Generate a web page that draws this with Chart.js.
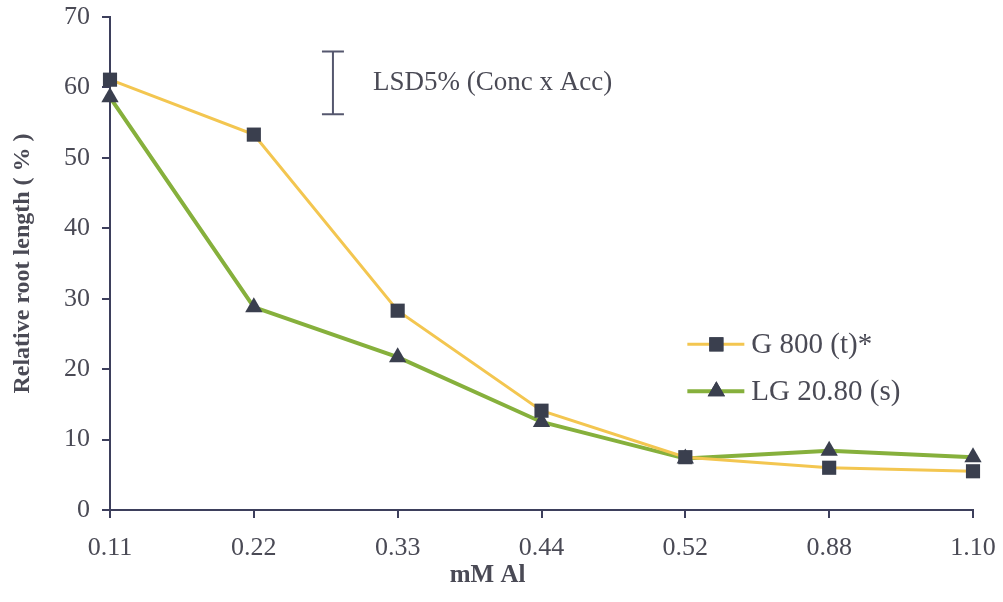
<!DOCTYPE html>
<html>
<head>
<meta charset="utf-8">
<script src="https://cdn.jsdelivr.net/npm/chart.js@4.4.1/dist/chart.umd.min.js"></script>
<style>
html,body{margin:0;padding:0;background:#fff;}
#wrap{width:1003px;height:602px;position:relative;}
</style>
</head>
<body>
<div id="wrap"><canvas id="c" width="1003" height="602"></canvas></div>
<script>
const categories = ['0.11','0.22','0.33','0.44','0.52','0.88','1.10'];
const g800 = [61.1, 53.3, 28.3, 14.1, 7.5, 6.0, 5.5];
const lg2080 = [58.6, 28.8, 21.7, 12.5, 7.3, 8.4, 7.5];
const seriesNames = ['G 800 (t)*', 'LG 20.80 (s)'];
const yTicks = [0, 10, 20, 30, 40, 50, 60, 70];
const lsdLabel = 'LSD5% (Conc x Acc)';
const lsdRange = [56.2, 65.1];
const lsdCategoryPos = [1.55];
const xTitle = 'mM Al';
const yTitle = 'Relative root length ( % )';

const FONT = "'Liberation Serif', 'DejaVu Serif', serif";
const AXIS = '#3d3f5c';
const TXT = '#4a4a55';
const YEL = '#f3c650';
const GRN = '#86b03c';
const MK = '#3a3f4e';

const overlay = {
  id: 'overlay',
  afterDatasetsDraw(chart) {
    const ctx = chart.ctx, x = chart.scales.x, y = chart.scales.y, ca = chart.chartArea;
    ctx.save();
    // x title
    ctx.fillStyle = TXT; ctx.font = "bold 25px " + FONT;
    ctx.textBaseline = 'middle'; ctx.textAlign = 'center';
    ctx.fillText(xTitle, (x.getPixelForValue(2) + x.getPixelForValue(3)) / 2 + 18, ca.bottom + 66);
    // LSD bar
    const bx = x.getPixelForValue(lsdCategoryPos[0]);
    const yt = y.getPixelForValue(lsdRange[1]), yb = y.getPixelForValue(lsdRange[0]);
    ctx.strokeStyle = '#55576e'; ctx.lineWidth = 2;
    ctx.beginPath();
    ctx.moveTo(bx, yt); ctx.lineTo(bx, yb);
    ctx.moveTo(bx - 11, yt); ctx.lineTo(bx + 11, yt);
    ctx.moveTo(bx - 11, yb); ctx.lineTo(bx + 11, yb);
    ctx.stroke();
    ctx.fillStyle = TXT; ctx.font = "27px " + FONT;
    ctx.textBaseline = 'middle'; ctx.textAlign = 'left';
    ctx.fillText(lsdLabel, bx + 40, (yt + yb) / 2);
    // legend
    const items = [
      {name: seriesNames[0], color: YEL, style: 'rect', lw: 3},
      {name: seriesNames[1], color: GRN, style: 'triangle', lw: 4}
    ];
    const lx0 = ca.left + (ca.right - ca.left) * 0.669;
    const ly0 = ca.top + (ca.bottom - ca.top) * 0.664;
    items.forEach((it, i) => {
      const ly = ly0 + i * 47;
      ctx.strokeStyle = it.color; ctx.lineWidth = it.lw;
      ctx.beginPath(); ctx.moveTo(lx0, ly); ctx.lineTo(lx0 + 57, ly); ctx.stroke();
      ctx.fillStyle = MK;
      Chart.helpers.drawPoint(ctx, {pointStyle: it.style, radius: 10, rotation: 0, borderWidth: 0}, lx0 + 29, ly);
      ctx.fill();
      ctx.fillStyle = TXT; ctx.font = "29px " + FONT;
      ctx.textBaseline = 'middle'; ctx.textAlign = 'left';
      ctx.fillText(it.name, lx0 + 64, ly + 1);
    });
    ctx.restore();
  }
};

new Chart(document.getElementById('c'), {
  type: 'line',
  data: {
    labels: categories,
    datasets: [
      {label: seriesNames[0], data: g800, borderColor: YEL, borderWidth: 3, tension: 0,
       pointStyle: 'rect', pointRadius: 10, pointHoverRadius: 10, pointBackgroundColor: MK, pointBorderColor: MK, pointBorderWidth: 0},
      {label: seriesNames[1], data: lg2080, borderColor: GRN, borderWidth: 4, tension: 0,
       pointStyle: 'triangle', pointRadius: 10, pointHoverRadius: 10, pointBackgroundColor: MK, pointBorderColor: MK, pointBorderWidth: 0}
    ]
  },
  options: {
    responsive: false,
    animation: false,
    devicePixelRatio: 1,
    layout: {autoPadding: false, padding: {left: 0, right: 30, top: 17, bottom: 0}},
    plugins: {legend: {display: false}, tooltip: {enabled: false}},
    scales: {
      x: {
        type: 'category', offset: false,
        grid: {display: true, drawOnChartArea: false, drawTicks: true, tickLength: 8, color: AXIS, lineWidth: 2},
        border: {display: true, color: AXIS, width: 2},
        ticks: {color: TXT, font: {family: FONT, size: 26}, padding: 15, maxRotation: 0, autoSkip: false},
        afterFit(s) { s.height = 92; s.paddingLeft = 0; s.paddingRight = 0; }
      },
      y: {
        min: 0, max: 70,
        afterBuildTicks(s) { s.ticks = yTicks.map(v => ({value: v})); },
        grid: {display: true, drawOnChartArea: false, drawTicks: true, tickLength: 8, color: AXIS, lineWidth: 2},
        border: {display: true, color: AXIS, width: 2},
        ticks: {color: TXT, font: {family: FONT, size: 26}, padding: 12},
        title: {display: true, text: yTitle, color: TXT, font: {family: FONT, size: 24, weight: 'bold'}, padding: {top: 8, bottom: 0}},
        afterFit(s) { s.width = 110; s.paddingTop = 0; s.paddingBottom = 0; }
      }
    }
  },
  plugins: [overlay]
});
</script>
</body>
</html>
